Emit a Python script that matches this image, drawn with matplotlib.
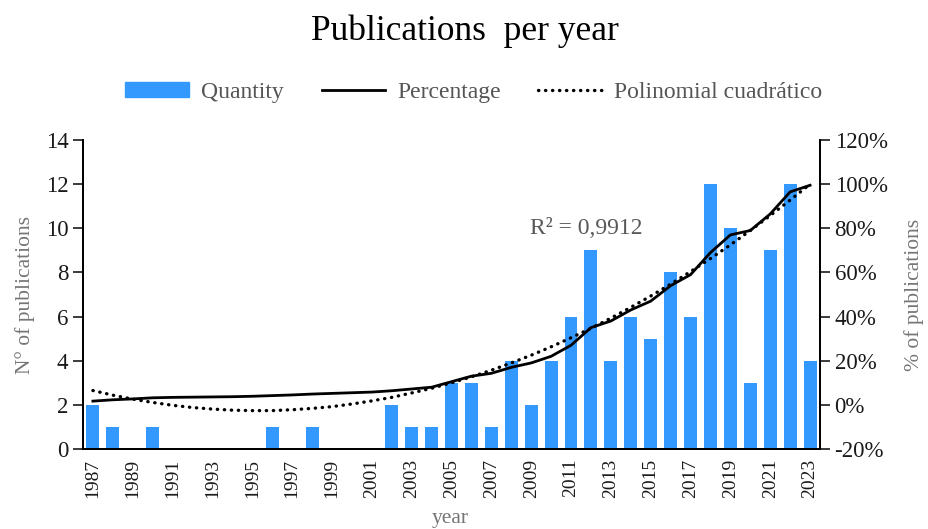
import numpy as np
import matplotlib
matplotlib.use("Agg")
import matplotlib.pyplot as plt
from matplotlib.patches import Patch
from matplotlib.lines import Line2D

plt.rcParams['font.family'] = ['Liberation Serif', 'DejaVu Serif']

years = list(range(1987, 2024))
quantity = [2, 1, 0, 1, 0, 0, 0, 0, 0, 1, 0, 1, 0, 0, 0, 2, 1, 1, 3, 3,
            1, 4, 2, 4, 6, 9, 4, 6, 5, 8, 6, 12, 10, 3, 9, 12, 4]
# cumulative share of publications (%), read from the (smoothed) chart line
percentage = [1.7, 2.3, 2.7, 3.2, 3.4, 3.5, 3.6, 3.7, 3.9, 4.2, 4.5, 4.9,
              5.2, 5.5, 5.8, 6.4, 7.2, 8.0, 10.5, 13, 14.3, 17, 19, 22, 27,
              35, 38, 43, 47, 54, 59, 69, 77, 79, 86.5, 96.5, 99.5]
# quadratic trend line (%)
trend = [6.5, 4.4, 2.6, 1.1, -0.2, -1.2, -1.9, -2.4, -2.6, -2.6, -2.2, -1.6,
         -0.8, 0.4, 1.8, 3.4, 5.4, 7.5, 10.0, 12.7, 15.7, 19.0, 22.5, 26.3,
         30.4, 34.7, 39.3, 44.2, 49.3, 54.7, 60.4, 66.3, 72.5, 79.0, 85.8,
         92.8, 100.0]
r2_text = "R² = 0,9912"

bar_color = '#3399FF'
grey = '#757575'
tick_color = '#1a1a1a'
dots = (0, (0.1, 2.0))

fig = plt.figure(figsize=(9.29, 5.29), dpi=100)
ax = fig.add_axes([0.0893, 0.1512, 0.7934, 0.5841])
ax2 = ax.twinx()

x = np.arange(len(years))
ax.bar(x, quantity, width=0.65, color=bar_color, zorder=2)
ax2.plot(x, percentage, color='black', lw=2, zorder=3)
ax2.plot(x, trend, color='black', lw=2.4, linestyle=dots,
         dash_capstyle='round', zorder=4)

ax.set_xlim(-0.5, len(years) - 0.5)
ax.set_ylim(0, 14)
ax.set_yticks(range(0, 15, 2))
ax2.set_ylim(-20, 120)
ax2.set_yticks(range(-20, 121, 20))
ax2.set_yticklabels([f"{v}%" for v in range(-20, 121, 20)])

ax.set_xticks(x[::2])
ax.set_xticklabels([str(y) for y in years[::2]], rotation=90, fontsize=14,
                   color=tick_color)
ax.tick_params(axis='x', length=0, pad=7)
ax.tick_params(axis='y', labelsize=16.5, colors=tick_color, length=7, width=1.2)
ax2.tick_params(axis='y', labelsize=16.5, colors=tick_color, length=7, width=1.2)

for a in (ax, ax2):
    a.spines['top'].set_visible(False)
    for s in ('left', 'right', 'bottom'):
        a.spines[s].set_linewidth(1.3)
        a.spines[s].set_color('black')

ax.set_ylabel("N° of publications", fontsize=15.5, color=grey, labelpad=8)
ax2.set_ylabel("% of publications", fontsize=15.5, color=grey, labelpad=12)
fig.text(0.485, 0.02, "year", fontsize=15.5, color=grey, ha='center', va='center')

ax.text(24.75, 10.0, r2_text, fontsize=17, color='#595959', ha='center',
        va='center')

fig.suptitle("Publications  per year", fontsize=25.5, y=0.94, va='center')

handles = [Patch(color=bar_color),
           Line2D([], [], color='black', lw=2),
           Line2D([], [], color='black', lw=2.4, linestyle=dots,
                  dash_capstyle='round')]
labels = ["Quantity", "Percentage", "Polinomial cuadrático"]
leg = fig.legend(handles, labels, loc='center', bbox_to_anchor=(0.51, 0.826),
                 ncol=3, frameon=False, fontsize=17, handlelength=2.7,
                 handleheight=0.6, columnspacing=1.6, handletextpad=0.5)
for t in leg.get_texts():
    t.set_color('#555555')

fig.savefig("out.png", dpi=100)
